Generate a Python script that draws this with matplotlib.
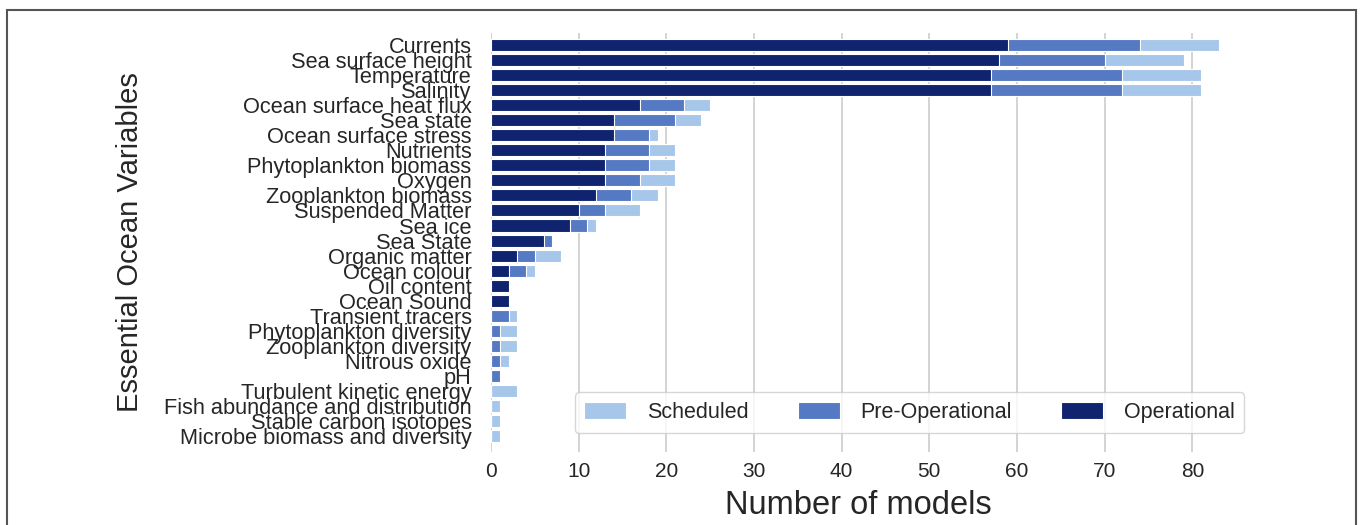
import matplotlib
matplotlib.use("Agg")
import numpy as np
import seaborn as sns
from matplotlib import pyplot as plt
from matplotlib.patches import Rectangle

variables = [
    "Currents", "Sea surface height", "Temperature", "Salinity",
    "Ocean surface heat flux", "Sea state", "Ocean surface stress",
    "Nutrients", "Phytoplankton biomass", "Oxygen", "Zooplankton biomass",
    "Suspended Matter", "Sea ice", "Sea State", "Organic matter",
    "Ocean colour", "Oil content", "Ocean Sound", "Transient tracers",
    "Phytoplankton diversity", "Zooplankton diversity", "Nitrous oxide", "pH",
    "Turbulent kinetic energy", "Fish abundance and distribution",
    "Stable carbon isotopes", "Microbe biomass and diversity",
]
operational = [59, 58, 57, 57, 17, 14, 14, 13, 13, 13, 12, 10, 9, 6, 3, 2, 2, 2,
               0, 0, 0, 0, 0, 0, 0, 0, 0]
pre_operational = [15, 12, 15, 15, 5, 7, 4, 5, 5, 4, 4, 3, 2, 1, 2, 2, 0, 0,
                   2, 1, 1, 1, 1, 0, 0, 0, 0]
scheduled = [9, 9, 9, 9, 3, 3, 1, 3, 3, 4, 3, 4, 1, 0, 3, 1, 0, 0,
             1, 2, 2, 1, 0, 3, 1, 1, 1]

sns.set_style("whitegrid")
plt.rcParams['font.family'] = ['Liberation Sans', 'DejaVu Sans']

fig = plt.figure(figsize=(13.63, 5.25), dpi=100)
ax = fig.add_axes([491 / 1363, 1 - 452 / 525, (1255 - 491) / 1363, (452 - 33) / 525])

op = np.array(operational)
pre = np.array(pre_operational)
sch = np.array(scheduled)
y = np.arange(len(variables))

c_sch = "#a6c6ea"
c_pre = "#5579c2"
c_op = "#0f236f"

ax.barh(y, op + pre + sch, height=0.8, color=c_sch, edgecolor="white", linewidth=0.8, label="Scheduled")
ax.barh(y, op + pre, height=0.8, color=c_pre, edgecolor="white", linewidth=0.8, label="Pre-Operational")
ax.barh(y, op, height=0.8, color=c_op, edgecolor="white", linewidth=0.8, label="Operational")

ax.set_yticks(y)
ax.set_yticklabels(variables, fontsize=15.7, color="#262626")
ax.set_ylim(27.06, -0.8)
ax.set_xlim(0, 87.15)
ax.set_xticks(range(0, 90, 10))
ax.tick_params(axis="x", labelsize=15, colors="#262626", pad=4)
ax.tick_params(axis="y", length=0, pad=14)
ax.grid(axis="y", visible=False)
ax.grid(axis="x", color="#cccccc", linewidth=1.2)
for s in ax.spines.values():
    s.set_visible(False)

ax.set_xlabel("Number of models", fontsize=23.5, color="#262626", labelpad=4)
ax.xaxis.set_label_coords((858 - 491) / (1255 - 491), -0.09)
ax.set_ylabel("Essential Ocean Variables", fontsize=21, color="#262626", labelpad=14)

leg = ax.legend(loc="lower right", ncol=3, fontsize=15.5, frameon=True,
                handlelength=1.95, handleheight=0.8, handletextpad=0.95,
                columnspacing=2.3, borderpad=0.45, bbox_to_anchor=(1.0, 0.02))
leg.get_frame().set_edgecolor("#cccccc")
for t in leg.get_texts():
    t.set_color("#262626")

fig.patches.append(Rectangle((7 / 1363, -0.1), (1356 - 7) / 1363, 1.1 - 10 / 525,
                             transform=fig.transFigure, fill=False,
                             edgecolor="#555555", linewidth=1.5))

fig.savefig("out.png", dpi=100)
